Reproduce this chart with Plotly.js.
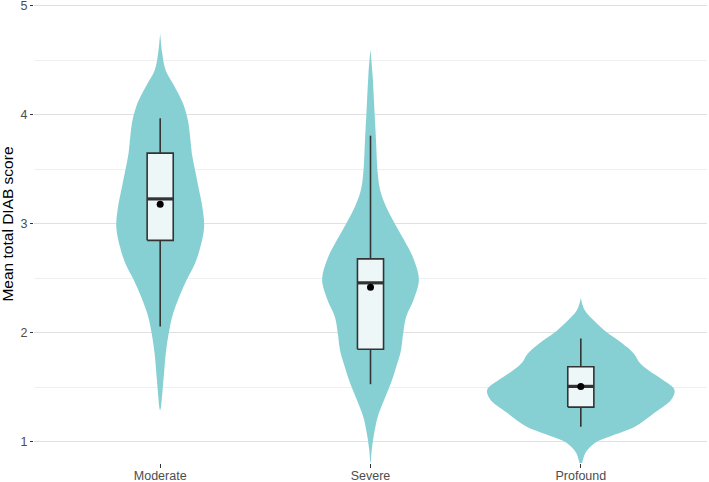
<!DOCTYPE html>
<html>
<head>
<meta charset="utf-8">
<script src="https://cdn.plot.ly/plotly-3.0.1.min.js"></script>
<style>html,body{margin:0;padding:0;background:#fff;}#chart{width:709px;height:482px;}</style>
</head>
<body>
<div id="chart"></div>
<script>
// ---- Data ----
const categories = ["Moderate", "Severe", "Profound"];

// Violin outlines: score levels and relative density (half-width)
const moderateLevels  = [1.29, 1.57, 1.82, 2.03, 2.18, 2.33, 2.49, 2.64, 2.79, 2.97, 3.16, 3.34, 3.50, 3.65, 3.80, 3.95, 4.11, 4.26, 4.41, 4.57, 4.75];
const moderateDensity = [0, 3.3, 5.7, 9.2, 13, 19, 26.7, 35, 40.3, 44, 42.2, 38.3, 34.8, 31.7, 30, 27.8, 22.7, 14.5, 5.5, 2, 0];

const severeLevels  = [0.81, 0.93, 1.08, 1.23, 1.39, 1.54, 1.69, 1.84, 2.00, 2.15, 2.30, 2.46, 2.55, 2.70, 2.85, 3.01, 3.16, 3.31, 3.47, 3.77, 4.07, 4.38, 4.60];
const severeDensity = [0, 1.3, 3.7, 7.2, 13.8, 20.5, 25.8, 30.5, 32.8, 35.8, 43, 48.3, 47.7, 42.3, 33.8, 24, 15.5, 9.7, 7.2, 5.5, 3.8, 2, 0];

const profoundLevels  = [0.79, 0.90, 0.99, 1.05, 1.14, 1.27, 1.39, 1.48, 1.57, 1.66, 1.73, 1.81, 1.91, 2.00, 2.09, 2.21, 2.32];
const profoundDensity = [0, 4.7, 14, 29, 54.2, 74.2, 90.8, 93.8, 82, 67.5, 58.8, 53.3, 40.8, 27, 15.8, 3.8, 0];

// Box statistics
const lowerWhisker = [2.06, 1.53, 1.14];
const q1Values     = [2.85, 1.85, 1.32];
const medians      = [3.23, 2.46, 1.51];
const q3Values     = [3.65, 2.68, 1.69];
const upperWhisker = [3.97, 3.81, 1.95];
const means        = [3.18, 2.42, 1.51];

// ---- Styling ----
const violinFill = "rgb(134,208,211)";
const boxFill = "#eef7f8";
const boxLine = "#333333";
const violinHalfMax = 0.445;   // category units
const boxWidth = 0.124;

const levelsList = [moderateLevels, severeLevels, profoundLevels];
const densityList = [moderateDensity, severeDensity, profoundDensity];
const maxDensity = Math.max(...densityList.map(d => Math.max(...d)));

const traces = [];
categories.forEach((cat, i) => {
  const c = i + 1;
  const lv = levelsList[i], dn = densityList[i];
  const xs = [], ys = [];
  for (let k = 0; k < lv.length; k++) { xs.push(c + dn[k] / maxDensity * violinHalfMax); ys.push(lv[k]); }
  for (let k = lv.length - 1; k >= 0; k--) { xs.push(c - dn[k] / maxDensity * violinHalfMax); ys.push(lv[k]); }
  traces.push({
    type: "scatter", mode: "lines", x: xs, y: ys, fill: "toself",
    fillcolor: violinFill, line: {width: 0, shape: "spline", smoothing: 1, color: violinFill},
    hoverinfo: "skip", showlegend: false
  });
});

// Box plots built from the statistics
categories.forEach((cat, i) => {
  const c = i + 1, h = boxWidth / 2;
  traces.push({
    type: "scatter", mode: "lines",
    x: [c, c, null, c, c], y: [lowerWhisker[i], q1Values[i], null, q3Values[i], upperWhisker[i]],
    line: {color: boxLine, width: 1.6}, showlegend: false, hoverinfo: "skip"
  });
  traces.push({
    type: "scatter", mode: "lines",
    x: [c - h, c + h, c + h, c - h, c - h],
    y: [q1Values[i], q1Values[i], q3Values[i], q3Values[i], q1Values[i]],
    fill: "toself", fillcolor: boxFill,
    line: {color: boxLine, width: 1.6}, showlegend: false, hoverinfo: "skip"
  });
  traces.push({
    type: "scatter", mode: "lines",
    x: [c - h, c + h], y: [medians[i], medians[i]],
    line: {color: boxLine, width: 3.2}, showlegend: false, hoverinfo: "skip"
  });
});

traces.push({
  type: "scatter", mode: "markers", x: [1, 2, 3], y: means,
  marker: {color: "#000000", size: 7}, showlegend: false, hoverinfo: "skip"
});

const layout = {
  width: 709, height: 482,
  margin: {l: 34, r: 2, t: 0, b: 19, pad: 0},
  paper_bgcolor: "#ffffff", plot_bgcolor: "#ffffff",
  font: {family: "Liberation Sans, Arial, sans-serif", color: "#4d4d4d", size: 12.5},
  showlegend: false,
  xaxis: {
    range: [0.4, 3.6], tickvals: [1, 2, 3], ticktext: categories,
    showgrid: false, zeroline: false, showline: false,
    ticks: "outside", ticklen: 4, tickwidth: 1, tickcolor: "#333333",
    ticklabelstandoff: -3, ticklabeloverflow: "allow",
    tickfont: {size: 12.5, color: "#4d4d4d"}, automargin: false, fixedrange: true
  },
  yaxis: {
    range: [0.807, 5.055], tickvals: [1, 2, 3, 4, 5],
    showgrid: true, gridcolor: "#e0e0e0", gridwidth: 1,
    minor: {tickvals: [1.5, 2.5, 3.5, 4.5], showgrid: true, gridcolor: "#efefef", gridwidth: 1, ticks: ""},
    zeroline: false, showline: false,
    ticks: "outside", ticklen: 3, tickwidth: 1, tickcolor: "#333333",
    ticklabeloverflow: "allow",
    tickfont: {size: 12.5, color: "#4d4d4d"}, automargin: false, fixedrange: true
  },
  annotations: [{
    text: "Mean total DIAB score", xref: "paper", yref: "paper",
    x: -26 / 673, y: 0.515, xanchor: "center", yanchor: "middle",
    textangle: -90, showarrow: false,
    font: {size: 15.5, color: "#000000", family: "Liberation Sans, Arial, sans-serif"}
  }]
};

Plotly.newPlot("chart", traces, layout, {displayModeBar: false, staticPlot: true});
</script>
</body>
</html>
